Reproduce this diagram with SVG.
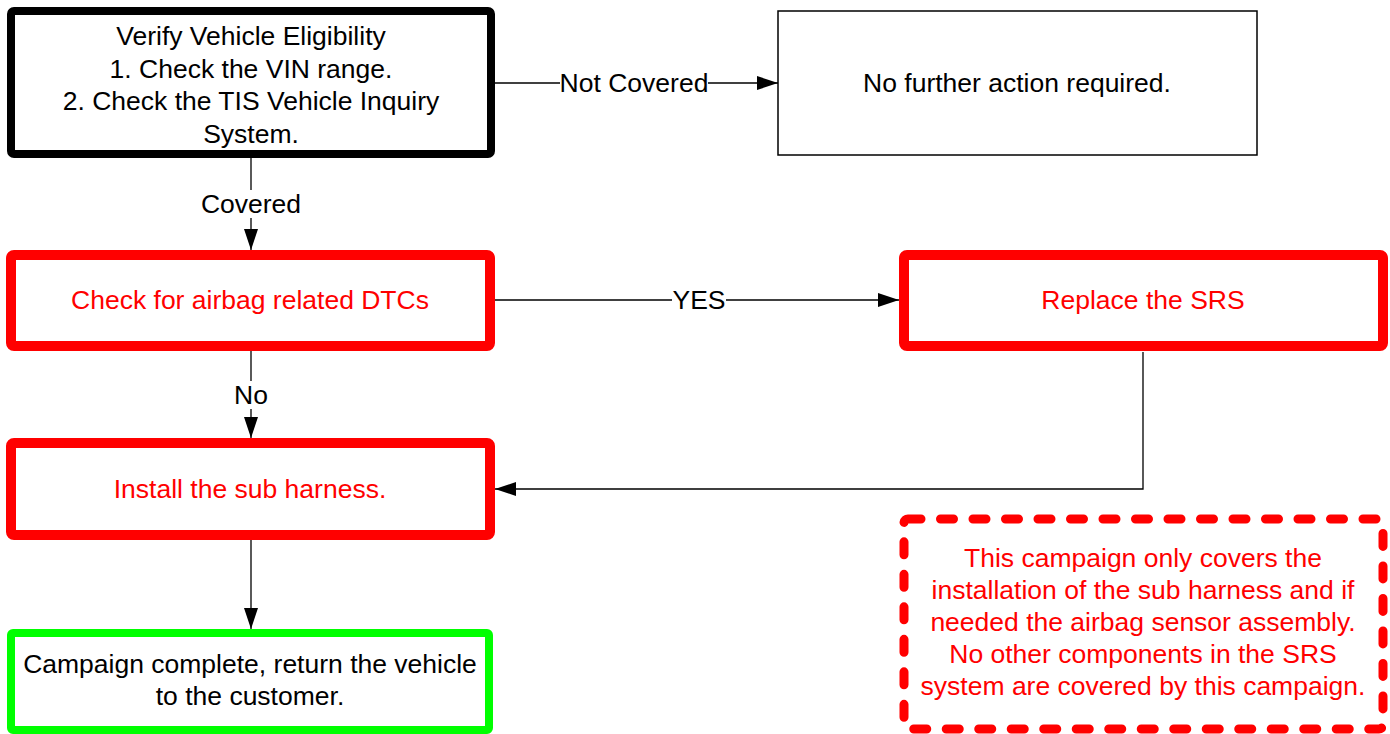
<svg xmlns="http://www.w3.org/2000/svg" width="1390" height="734" viewBox="0 0 1390 734">
<style>
text{font-family:"Liberation Sans",Arial,sans-serif;font-size:26.5px;text-anchor:middle}
.blk{fill:#000}
.red{fill:#FF0000}
.conn{stroke:#000;stroke-width:1.3;fill:none}
.lblbg{fill:#fff}
</style>
<defs>
<marker id="arr" markerWidth="21" markerHeight="14" refX="21" refY="7" orient="auto" markerUnits="userSpaceOnUse">
<path d="M0,0 L21,7 L0,14 Z" fill="#000"/>
</marker>
</defs>
<rect width="1390" height="734" fill="#fff"/>
<g id="connectors">
<path class="conn" d="M495,83 L778,83" marker-end="url(#arr)"/>
<path class="conn" d="M251,158 L251,250" marker-end="url(#arr)"/>
<path class="conn" d="M495,300 L899,300" marker-end="url(#arr)"/>
<path class="conn" d="M251,351 L251,438" marker-end="url(#arr)"/>
<path class="conn" d="M1143,352 L1143,489 L495,489" marker-end="url(#arr)"/>
<path class="conn" d="M251,540 L251,629" marker-end="url(#arr)"/>
<rect class="lblbg" x="560" y="70" width="148" height="28"/>
<text class="blk" x="634" y="92">Not Covered</text>
<rect class="lblbg" x="201" y="190" width="100" height="28"/>
<text class="blk" x="251" y="213">Covered</text>
<rect class="lblbg" x="672" y="286" width="54" height="28"/>
<text class="blk" x="699" y="309">YES</text>
<rect class="lblbg" x="233" y="381" width="36" height="28"/>
<text class="blk" x="251" y="404">No</text>
</g>
<g id="verify">
<rect x="11" y="11" width="480" height="143" rx="3" fill="#fff" stroke="#000" stroke-width="8"/>
<text class="blk" x="251" y="45">Verify Vehicle Eligibility</text>
<text class="blk" x="251" y="77.5">1. Check the VIN range.</text>
<text class="blk" x="251" y="110">2. Check the TIS Vehicle Inquiry</text>
<text class="blk" x="251" y="142.5">System.</text>
</g>
<g id="no-action">
<rect x="778" y="11" width="479" height="144" fill="#fff" stroke="#000" stroke-width="1.5"/>
<text class="blk" x="1017" y="92">No further action required.</text>
</g>
<g id="check-dtc">
<rect x="11" y="255" width="479" height="91" rx="3" fill="#fff" stroke="#FF0000" stroke-width="10"/>
<text class="red" x="250" y="309">Check for airbag related DTCs</text>
</g>
<g id="replace-srs">
<rect x="904" y="255" width="479" height="91" rx="3" fill="#fff" stroke="#FF0000" stroke-width="10"/>
<text class="red" x="1143" y="309">Replace the SRS</text>
</g>
<g id="install">
<rect x="11" y="443" width="479" height="92" rx="3" fill="#fff" stroke="#FF0000" stroke-width="10"/>
<text class="red" x="250" y="498">Install the sub harness.</text>
</g>
<g id="complete">
<rect x="11" y="633" width="478" height="97" rx="2" fill="#fff" stroke="#00FF00" stroke-width="8"/>
<text class="blk" x="250" y="673">Campaign complete, return the vehicle</text>
<text class="blk" x="250" y="705">to the customer.</text>
</g>
<g id="note">
<rect x="904" y="519" width="479" height="210" rx="4" fill="none" stroke="#FF0000" stroke-width="9" stroke-linecap="round" stroke-dasharray="13 19.5"/>
<text class="red" x="1143" y="567">This campaign only covers the</text>
<text class="red" x="1143" y="599">installation of the sub harness and if</text>
<text class="red" x="1143" y="631">needed the airbag sensor assembly.</text>
<text class="red" x="1143" y="663">No other components in the SRS</text>
<text class="red" x="1143" y="695">system are covered by this campaign.</text>
</g>
</svg>
